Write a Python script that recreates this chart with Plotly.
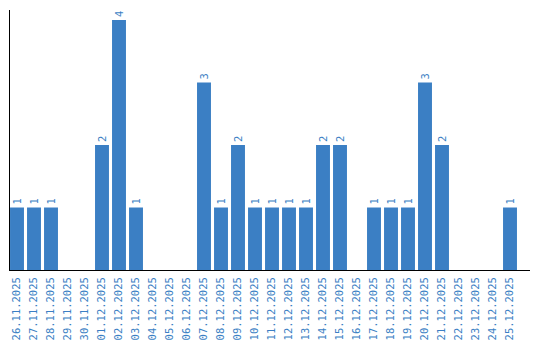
import plotly.graph_objects as go

dates = ["26.11.2025", "27.11.2025", "28.11.2025", "29.11.2025", "30.11.2025",
         "01.12.2025", "02.12.2025", "03.12.2025", "04.12.2025", "05.12.2025",
         "06.12.2025", "07.12.2025", "08.12.2025", "09.12.2025", "10.12.2025",
         "11.12.2025", "12.12.2025", "13.12.2025", "14.12.2025", "15.12.2025",
         "16.12.2025", "17.12.2025", "18.12.2025", "19.12.2025", "20.12.2025",
         "21.12.2025", "22.12.2025", "23.12.2025", "24.12.2025", "25.12.2025"]
counts = [1, 1, 1, 0, 0, 2, 4, 1, 0, 0, 0, 3, 1, 2, 1, 1, 1, 1, 2, 2,
          0, 1, 1, 1, 3, 2, 0, 0, 0, 1]

BLUE = "#3b7fc4"
FONT = "DejaVu Sans Mono"
labels = [str(v) if v > 0 else "" for v in counts]

fig = go.Figure(go.Bar(
    x=dates, y=counts, marker_color=BLUE, marker_line_width=0,
    text=labels, textposition="outside", textangle=-90,
    textfont=dict(family=FONT, size=10.5, color=BLUE),
    cliponaxis=False,
))
fig.update_layout(
    width=540, height=340,
    margin=dict(l=10, r=10, t=10, b=70),
    paper_bgcolor="white", plot_bgcolor="white",
    bargap=0.18, showlegend=False,
    font=dict(family=FONT, size=10.5, color=BLUE),
)
fig.update_xaxes(
    type="category", range=[-7/17, 29 + 20/17], automargin=False,
    showline=True, linecolor="black", linewidth=1,
    showgrid=False, ticks="", tickangle=-90, ticklabelstandoff=2,
    tickfont=dict(family=FONT, size=10.5, color=BLUE),
)
fig.update_yaxes(
    range=[0, 4.16], automargin=False, showline=True, linecolor="black", linewidth=1,
    showgrid=False, showticklabels=False, ticks="", zeroline=False,
)
fig.write_html("out.html")
